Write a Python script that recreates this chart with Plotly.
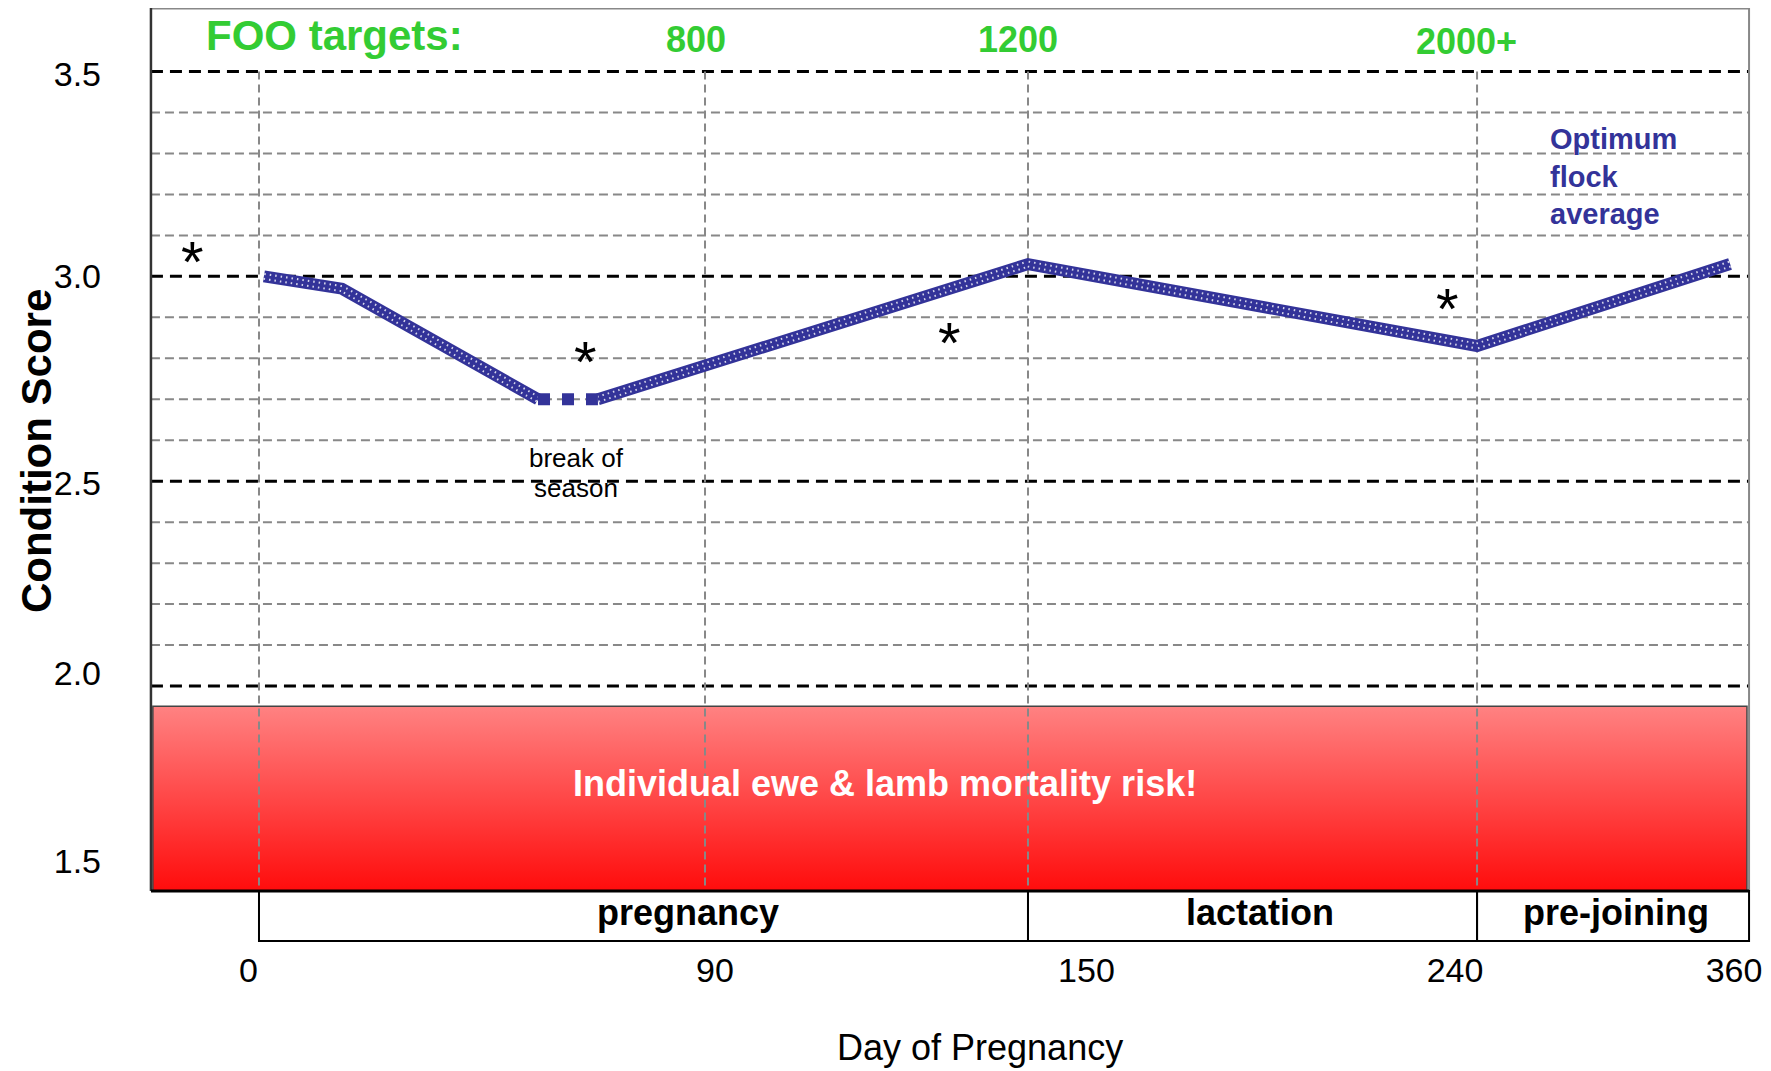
import plotly.graph_objects as go

FONT = "Liberation Sans, Arial, sans-serif"
GREEN = "#33CC33"
BLUE = "#333399"

# ---- data (x in diagram position units: 0 = left frame, 100 = right frame) ----
path1_x = [7.07, 11.95, 24.22]
path1_y = [3.00, 2.97, 2.70]
break_x = [24.22, 27.97]
break_y = [2.70, 2.70]
path2_x = [27.97, 54.88, 82.98, 98.81]
path2_y = [2.70, 3.03, 2.83, 3.03]

star_x = [2.63, 27.22, 49.94, 81.16]
star_y = [3.05, 2.806, 2.852, 2.935]

xtick_pos = [6.10, 35.29, 58.54, 81.60, 99.06]
xtick_text = ["0", "90", "150", "240", "360"]
ytick_pos = [1.573, 2.032, 2.495, 3.0, 3.493]
ytick_text = ["1.5", "2.0", "2.5", "3.0", "3.5"]

major_grid = [2.0, 2.5, 3.0, 3.5]
minor_grid = [2.1, 2.2, 2.3, 2.4, 2.6, 2.7, 2.8, 2.9, 3.1, 3.2, 3.3, 3.4]
vert_grid = [6.76, 34.67, 54.88, 82.98]

foo_labels = ["800", "1200", "2000+"]
foo_x = [34.11, 54.26, 82.35]
foo_y = [3.577, 3.577, 3.573]

phases = ["pregnancy", "lactation", "pre-joining"]
phase_start = [6.76, 54.88, 82.98]
phase_end = [54.88, 82.98, 100.0]
phase_label_x = [33.6, 69.4, 91.7]
phase_y = [1.378, 1.5]

risk_x = [0.12, 99.87]
risk_y = [1.5, 1.951]

X_RANGE = [-0.31, 100.31]
Y_RANGE = [1.368, 3.655]


def xpaper(u):
    return (u - X_RANGE[0]) / (X_RANGE[1] - X_RANGE[0])


fig = go.Figure()

# red risk box with vertical gradient
fig.add_trace(go.Scatter(
    x=[risk_x[0], risk_x[1], risk_x[1], risk_x[0], risk_x[0]],
    y=[risk_y[0], risk_y[0], risk_y[1], risk_y[1], risk_y[0]],
    mode="lines", fill="toself",
    fillgradient=dict(type="vertical",
                      colorscale=[[0, "rgb(255,12,12)"], [1, "rgb(255,130,130)"]]),
    line=dict(color="#444444", width=1.5),
    hoverinfo="skip", showlegend=False))

# vertical dashed grid lines (on top of the red box)
vx, vy = [], []
for v in vert_grid:
    vx += [v, v, None]
    vy += [3.5, 1.5, None]
fig.add_trace(go.Scatter(x=vx, y=vy, mode="lines",
                         line=dict(color="#888888", width=2, dash="8px,5px"),
                         hoverinfo="skip", showlegend=False))

# condition score line (textured)
lx = path1_x + [None] + path2_x
ly = path1_y + [None] + path2_y
fig.add_trace(go.Scatter(x=lx, y=ly, mode="lines",
                         line=dict(color=BLUE, width=12), showlegend=False, hoverinfo="skip"))
fig.add_trace(go.Scatter(x=lx, y=ly, mode="lines",
                         line=dict(color="rgba(255,255,255,0.8)", width=7, dash="1.5px,4px"),
                         showlegend=False, hoverinfo="skip"))
fig.add_trace(go.Scatter(x=lx, y=ly, mode="lines",
                         line=dict(color=BLUE, width=3), showlegend=False, hoverinfo="skip"))
fig.add_trace(go.Scatter(x=break_x, y=break_y, mode="lines",
                         line=dict(color=BLUE, width=12, dash="12px,12px"),
                         showlegend=False, hoverinfo="skip"))

shapes = []
for g in minor_grid:
    shapes.append(dict(type="line", xref="x", yref="y", x0=0, x1=100, y0=g, y1=g,
                       line=dict(color="#888888", width=2, dash="9px,5px"), layer="below"))
for g in major_grid:
    shapes.append(dict(type="line", xref="x", yref="y", x0=0, x1=100, y0=g, y1=g,
                       line=dict(color="black", width=3, dash="12px,7px"), layer="below"))
# frame
shapes.append(dict(type="line", xref="paper", yref="paper", x0=xpaper(0), x1=xpaper(100),
                   y0=1, y1=1, line=dict(color="#888888", width=3)))
shapes.append(dict(type="line", x0=100, x1=100, y0=3.66, y1=1.5,
                   line=dict(color="#888888", width=2)))
shapes.append(dict(type="line", x0=0, x1=0, y0=3.66, y1=1.5,
                   line=dict(color="#333333", width=2.5)))
shapes.append(dict(type="line", x0=0, x1=100, y0=1.5, y1=1.5,
                   line=dict(color="black", width=3)))
# phase boxes
for s, e in zip(phase_start, phase_end):
    shapes.append(dict(type="rect", x0=s, x1=e, y0=phase_y[0], y1=phase_y[1],
                       line=dict(color="black", width=2), fillcolor="rgba(0,0,0,0)"))

ann = []
ann.append(dict(x=11.51, y=3.587, text="<b>FOO targets:</b>", showarrow=False,
                font=dict(family=FONT, size=42, color=GREEN)))
for t, x, y in zip(foo_labels, foo_x, foo_y):
    ann.append(dict(x=x, y=y, text=f"<b>{t}</b>", showarrow=False,
                    font=dict(family=FONT, size=36, color=GREEN)))
for x, y in zip(star_x, star_y):
    ann.append(dict(x=x, y=y, text="*", showarrow=False, yshift=-6,
                    font=dict(family=FONT, size=58, color="black")))
for t, x in zip(phases, phase_label_x):
    ann.append(dict(x=x, y=1.4485, text=f"<b>{t}</b>", showarrow=False,
                    font=dict(family=FONT, size=36, color="black")))
ann.append(dict(x=45.96, y=1.763, text="<b>Individual ewe &amp; lamb mortality risk!</b>",
                showarrow=False, font=dict(family=FONT, size=36, color="white")))
ann.append(dict(x=87.42, y=3.243, text="<b>Optimum<br>flock<br>average</b>", showarrow=False,
                xanchor="left", align="left", font=dict(family=FONT, size=29, color=BLUE)))
ann.append(dict(x=26.6, y=2.557, text="break of", showarrow=False,
                font=dict(family=FONT, size=26, color="black")))
ann.append(dict(x=26.6, y=2.483, text="season", showarrow=False,
                font=dict(family=FONT, size=26, color="black")))
ann.append(dict(xref="paper", yref="paper", x=0.5187, y=-0.1099, xanchor="center",
                yanchor="middle", text="Day of Pregnancy",
                showarrow=False, font=dict(family=FONT, size=36, color="black")))
ann.append(dict(xref="paper", yref="paper", x=-0.0684, y=0.5272, xanchor="center",
                yanchor="middle", text="<b>Condition Score</b>",
                textangle=-90, showarrow=False, font=dict(family=FONT, size=42, color="black")))

fig.update_layout(
    width=1771, height=1071,
    margin=dict(l=138, r=25, t=0, b=134),
    paper_bgcolor="white", plot_bgcolor="white",
    shapes=shapes, annotations=ann, showlegend=False,
    xaxis=dict(range=X_RANGE, showgrid=False, zeroline=False, showline=False,
               tickvals=xtick_pos, ticktext=xtick_text, ticks="",
               ticklabelstandoff=2, fixedrange=True,
               tickfont=dict(family=FONT, size=34, color="black")),
    yaxis=dict(range=Y_RANGE, showgrid=False, zeroline=False, showline=False,
               tickvals=ytick_pos, ticktext=ytick_text, ticks="",
               ticklabelstandoff=44, fixedrange=True,
               tickfont=dict(family=FONT, size=34, color="black")),
)

fig.write_html("out.html")
